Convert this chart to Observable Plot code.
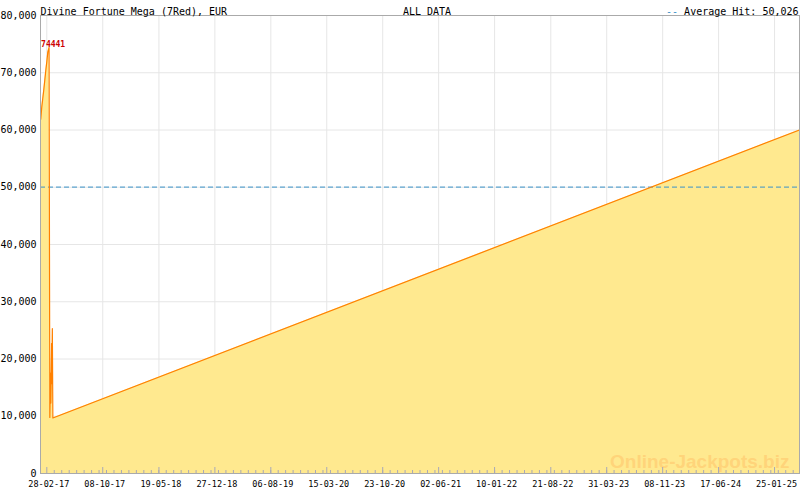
<!DOCTYPE html>
<html>
<head>
<meta charset="utf-8">
<script src="https://cdn.jsdelivr.net/npm/d3@7"></script>
<script src="https://cdn.jsdelivr.net/npm/@observablehq/plot@0.6"></script>
<style>
  html, body { margin: 0; padding: 0; background: #fff; }
</style>
</head>
<body>
<div id="chart"></div>
<script>
// ---- data ----
const dates = ["2017-02-04","2017-02-08","2017-02-12","2017-02-16","2017-02-20","2017-02-24","2017-02-28","2017-03-04","2017-03-09","2017-03-12","2017-03-15","2017-03-16","2017-03-19","2017-03-20","2017-03-22","2017-03-24","2025-05-04"];
const values = [61900, 64000, 65500, 67000, 68700, 70400, 71900, 73600, 74441, 9800, 17500, 12300, 22700, 15700, 25300, 9700, 60000];
const xTickLabels = ["28-02-17","08-10-17","19-05-18","27-12-18","06-08-19","15-03-20","23-10-20","02-06-21","10-01-22","21-08-22","31-03-23","08-11-23","17-06-24","25-01-25"];
const yTicks = [0, 10000, 20000, 30000, 40000, 50000, 60000, 70000, 80000];
const averageHit = 50026;
const title = "Divine Fortune Mega (7Red), EUR";
const subtitle = "ALL DATA";
const watermark = "Online-Jackpots.biz";
const xDomain = ["2017-02-03", "2025-05-04"];

// ---- build ----
const data = dates.map((d, i) => ({date: new Date(d), value: values[i]}));
const parseTick = d3.utcParse("%d-%m-%y");
const fmtTick = d3.utcFormat("%d-%m-%y");
const majorTicks = xTickLabels.map(parseTick);
const dom = xDomain.map(d => new Date(d));
const minorStep = (majorTicks[majorTicks.length - 1] - majorTicks[0]) / (majorTicks.length - 1) / 7.5;
const minorTicks = [];
for (let t = +majorTicks[0] + minorStep; t <= +dom[1]; t += minorStep) minorTicks.push(new Date(t));
const peak = d3.greatest(data, d => d.value);

const mono = "DejaVu Sans Mono, monospace";
const chart = Plot.plot({
  width: 800,
  height: 490,
  marginLeft: 40,
  marginRight: 1,
  marginTop: 15,
  marginBottom: 17,
  style: {fontFamily: mono, fontSize: "10px", background: "#fff", color: "#000"},
  x: {type: "utc", domain: dom, label: null},
  y: {domain: [0, 80000], label: null},
  marks: [
    Plot.gridY(yTicks, {stroke: "#e6e6e6", strokeOpacity: 1}),
    Plot.gridX(majorTicks, {stroke: "#e6e6e6", strokeOpacity: 1}),
    Plot.areaY(data, {x: "date", y: "value", fill: "#ffe98f"}),
    Plot.text([watermark], {frameAnchor: "bottom-right", textAnchor: "end", lineAnchor: "bottom", dx: -10, dy: -6,
      fontFamily: "Liberation Sans, Arial, sans-serif", fontWeight: "bold", fontSize: 19, fill: "#ffd47a"}),
    Plot.ruleY([averageHit], {stroke: "#3a92c8", strokeDasharray: "5,3"}),
    Plot.lineY(data, {x: "date", y: "value", stroke: "#ff8000", strokeWidth: 1.2}),
    Plot.text([peak], {x: "date", y: "value", text: d => String(d.value), fill: "#cc0000",
      textAnchor: "start", lineAnchor: "bottom", dx: -8, dy: 0, fontSize: 8, fontWeight: "bold"}),
    Plot.frame({stroke: "#aaaaaa"}),
    Plot.ruleX(minorTicks, {stroke: "#a8a8b8", insetTop: 455}),
    Plot.ruleX(majorTicks, {stroke: "#a8a8b8", insetTop: 452}),
    Plot.axisY(yTicks, {tickFormat: d3.format(","), tickSize: 0, tickPadding: 4, fontSize: 10, fontFamily: mono, label: null}),
    Plot.axisX(majorTicks, {tickFormat: fmtTick, tickSize: 0, tickPadding: 7, dx: 2, fontSize: 8.5, fontFamily: mono, label: null}),
    Plot.text([title], {frameAnchor: "top-left", textAnchor: "start", dy: -8, fontSize: 10, fontFamily: mono}),
    Plot.text([subtitle], {frameAnchor: "top", textAnchor: "middle", dx: 7, dy: -8, fontSize: 10, fontFamily: mono}),
    Plot.text(["Average Hit: 50,026"], {frameAnchor: "top-right", textAnchor: "end", dx: -1, dy: -8, fontSize: 10, fontFamily: mono}),
    Plot.text(["--"], {frameAnchor: "top-right", textAnchor: "end", dx: -1 - 20 * 6.02, dy: -8, fontSize: 10, fontFamily: mono, fill: "#3a92c8"})
  ]
});
document.getElementById("chart").appendChild(chart);
</script>
</body>
</html>
